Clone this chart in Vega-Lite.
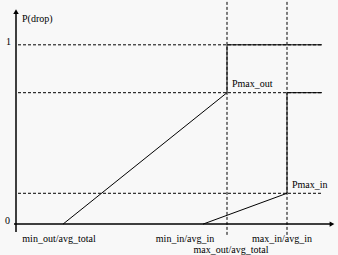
{
  "$schema": "https://vega.github.io/schema/vega-lite/v6.json",
  "width": 338,
  "height": 255,
  "padding": 0,
  "autosize": {"type": "fit", "contains": "padding"},
  "background": "#f8f8f8",
  "config": {"view": {"stroke": null}, "text": {"font": "Liberation Serif", "fontSize": 10, "color": "#000"}},
  "datasets": {
    "hdash": [
      {"x": 2, "x2": 306, "y": 1},
      {"x": 2, "x2": 306, "y": 0.733},
      {"x": 2, "x2": 306, "y": 0.172}
    ],
    "vdash": [
      {"x": 211, "y": -0.06, "y2": 1.244},
      {"x": 271, "y": -0.06, "y2": 1.244}
    ],
    "axes": [
      {"x": 0, "x2": 0, "y": -0.044, "y2": 1.18},
      {"x": -2, "x2": 316, "y": 0, "y2": 0}
    ],
    "curves": [
      {"series": "out", "ord": 1, "x": 47, "y": 0},
      {"series": "out", "ord": 2, "x": 211, "y": 0.733},
      {"series": "out", "ord": 3, "x": 211, "y": 1},
      {"series": "out", "ord": 4, "x": 306, "y": 1},
      {"series": "in", "ord": 1, "x": 187, "y": 0},
      {"series": "in", "ord": 2, "x": 271, "y": 0.172},
      {"series": "in", "ord": 3, "x": 271, "y": 0.733},
      {"series": "in", "ord": 4, "x": 306, "y": 0.733}
    ],
    "labels": [
      {"pos": "left", "text": "P(drop)", "x": 6, "y": 1.128},
      {"pos": "left", "text": "Pmax_out", "x": 216, "y": 0.767},
      {"pos": "left", "text": "Pmax_in", "x": 276, "y": 0.2},
      {"pos": "right", "text": "1", "x": -5, "y": 1.0},
      {"pos": "right", "text": "0", "x": -6, "y": 0.0},
      {"pos": "center", "text": "min_out/avg_total", "x": 43, "y": -0.1},
      {"pos": "center", "text": "min_in/avg_in", "x": 169, "y": -0.1},
      {"pos": "center", "text": "max_in/avg_in", "x": 266, "y": -0.1},
      {"pos": "center", "text": "max_out/avg_total", "x": 215, "y": -0.161}
    ]
  },
  "layer": [
    {
      "data": {"name": "hdash"},
      "mark": {"type": "rule", "strokeDash": [3, 2], "strokeWidth": 1, "color": "#000"},
      "encoding": {
        "x": {"field": "x", "type": "quantitative", "scale": {"domain": [-16, 322], "nice": false, "zero": false}, "axis": null},
        "x2": {"field": "x2"},
        "y": {"field": "y", "type": "quantitative", "scale": {"domain": [-0.1722, 1.2444], "nice": false, "zero": false}, "axis": null}
      }
    },
    {
      "data": {"name": "vdash"},
      "mark": {"type": "rule", "strokeDash": [3, 2], "strokeWidth": 1, "color": "#000"},
      "encoding": {
        "x": {"field": "x", "type": "quantitative", "scale": {"domain": [-16, 322], "nice": false, "zero": false}, "axis": null},
        "y": {"field": "y", "type": "quantitative", "scale": {"domain": [-0.1722, 1.2444], "nice": false, "zero": false}, "axis": null},
        "y2": {"field": "y2"}
      }
    },
    {
      "data": {"name": "axes"},
      "mark": {"type": "rule", "strokeWidth": 1.5, "color": "#000"},
      "encoding": {
        "x": {"field": "x", "type": "quantitative", "scale": {"domain": [-16, 322], "nice": false, "zero": false}, "axis": null},
        "x2": {"field": "x2"},
        "y": {"field": "y", "type": "quantitative", "scale": {"domain": [-0.1722, 1.2444], "nice": false, "zero": false}, "axis": null},
        "y2": {"field": "y2"}
      }
    },
    {
      "data": {"values": [{"x": 0, "y": 1.185}]},
      "mark": {"type": "point", "shape": "triangle-up", "size": 30, "filled": true, "color": "#000", "opacity": 1},
      "encoding": {
        "x": {"field": "x", "type": "quantitative", "scale": {"domain": [-16, 322], "nice": false, "zero": false}, "axis": null},
        "y": {"field": "y", "type": "quantitative", "scale": {"domain": [-0.1722, 1.2444], "nice": false, "zero": false}, "axis": null}
      }
    },
    {
      "data": {"values": [{"x": 316, "y": 0}]},
      "mark": {"type": "point", "shape": "triangle-right", "size": 30, "filled": true, "color": "#000", "opacity": 1},
      "encoding": {
        "x": {"field": "x", "type": "quantitative", "scale": {"domain": [-16, 322], "nice": false, "zero": false}, "axis": null},
        "y": {"field": "y", "type": "quantitative", "scale": {"domain": [-0.1722, 1.2444], "nice": false, "zero": false}, "axis": null}
      }
    },
    {
      "data": {"name": "curves"},
      "mark": {"type": "line", "strokeWidth": 1, "color": "#000"},
      "encoding": {
        "x": {"field": "x", "type": "quantitative", "scale": {"domain": [-16, 322], "nice": false, "zero": false}, "axis": null},
        "y": {"field": "y", "type": "quantitative", "scale": {"domain": [-0.1722, 1.2444], "nice": false, "zero": false}, "axis": null},
        "detail": {"field": "series"},
        "order": {"field": "ord", "type": "quantitative"}
      }
    },
    {
      "data": {"name": "labels"},
      "transform": [{"filter": "datum.pos === 'left'"}],
      "mark": {"type": "text", "align": "left", "baseline": "alphabetic"},
      "encoding": {
        "x": {"field": "x", "type": "quantitative", "scale": {"domain": [-16, 322], "nice": false, "zero": false}, "axis": null},
        "y": {"field": "y", "type": "quantitative", "scale": {"domain": [-0.1722, 1.2444], "nice": false, "zero": false}, "axis": null},
        "text": {"field": "text"}
      }
    },
    {
      "data": {"name": "labels"},
      "transform": [{"filter": "datum.pos === 'right'"}],
      "mark": {"type": "text", "align": "right", "baseline": "alphabetic"},
      "encoding": {
        "x": {"field": "x", "type": "quantitative", "scale": {"domain": [-16, 322], "nice": false, "zero": false}, "axis": null},
        "y": {"field": "y", "type": "quantitative", "scale": {"domain": [-0.1722, 1.2444], "nice": false, "zero": false}, "axis": null},
        "text": {"field": "text"}
      }
    },
    {
      "data": {"name": "labels"},
      "transform": [{"filter": "datum.pos === 'center'"}],
      "mark": {"type": "text", "align": "center", "baseline": "alphabetic"},
      "encoding": {
        "x": {"field": "x", "type": "quantitative", "scale": {"domain": [-16, 322], "nice": false, "zero": false}, "axis": null},
        "y": {"field": "y", "type": "quantitative", "scale": {"domain": [-0.1722, 1.2444], "nice": false, "zero": false}, "axis": null},
        "text": {"field": "text"}
      }
    }
  ]
}
